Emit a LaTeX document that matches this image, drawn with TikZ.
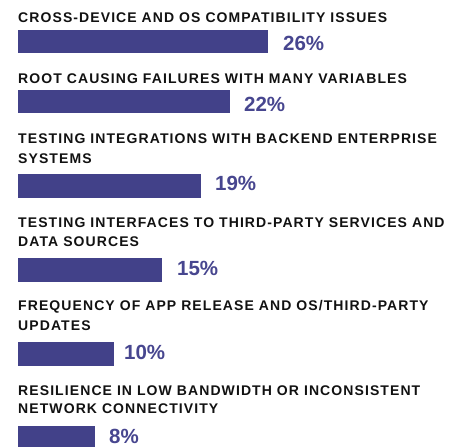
\documentclass[tikz,border=0pt]{standalone}
\usepackage{fontspec}
\setmainfont{Liberation Sans}
\newfontfamily\titlefont[LetterSpace=7.8]{Liberation Sans}
\definecolor{barcol}{HTML}{424189}
\definecolor{pctcol}{HTML}{47468F}
\definecolor{txtcol}{HTML}{111111}
\tikzset{
  title/.style={anchor=base west, inner sep=0pt, text=txtcol, font=\titlefont\fontsize{14}{19.5}\selectfont\bfseries, align=left},
  bar/.style={fill=barcol, draw=none},
  pct/.style={anchor=base west, inner sep=0pt, text=pctcol, font=\fontsize{20.5}{24}\selectfont\bfseries}
}
\begin{document}
\begin{tikzpicture}[x=1pt,y=-1pt]
\useasboundingbox (0,0) rectangle (461,447);
% 1
\node[title] (t1) at (18,22.7) {CROSS-DEVICE AND OS COMPATIBILITY ISSUES};
\path[bar] (18,30) rectangle (268,53);
\node[pct] (p1) at (283,50) {26\%};
% 2
\node[title] (t2) at (18,83) {ROOT CAUSING FAILURES WITH MANY VARIABLES};
\path[bar] (18,90) rectangle (230,113);
\node[pct] (p2) at (244,111) {22\%};
% 3
\node[title] (t3) at (18,143) {TESTING INTEGRATIONS WITH BACKEND ENTERPRISE};
\node[title] (t3b) at (18,163) {SYSTEMS};
\path[bar] (18,174) rectangle (201,198);
\node[pct] (p3) at (215,190) {19\%};
% 4
\node[title] (t4) at (18,227) {TESTING INTERFACES TO THIRD-PARTY SERVICES AND};
\node[title] (t4b) at (18,246) {DATA SOURCES};
\path[bar] (18,258) rectangle (162,282);
\node[pct] (p4) at (177,275) {15\%};
% 5
\node[title] (t5) at (18,310) {FREQUENCY OF APP RELEASE AND OS/THIRD-PARTY};
\node[title] (t5b) at (18,330) {UPDATES};
\path[bar] (18,342) rectangle (114,366);
\node[pct] (p5) at (124,359) {10\%};
% 6
\node[title] (t6) at (18,395) {RESILIENCE IN LOW BANDWIDTH OR INCONSISTENT};
\node[title] (t6b) at (18,413) {NETWORK CONNECTIVITY};
\path[bar] (18,426) rectangle (95,450);
\node[pct] (p6) at (109,443) {8\%};
\end{tikzpicture}
\end{document}
